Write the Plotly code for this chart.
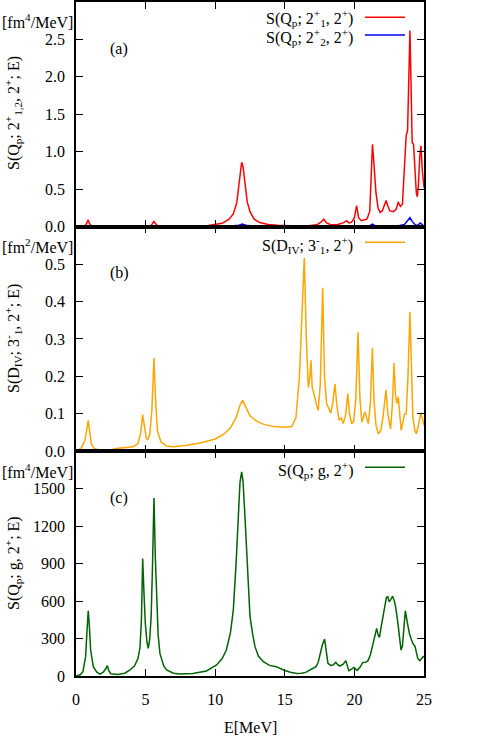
import plotly.graph_objects as go
from plotly.subplots import make_subplots

# ---------------- data ----------------
a1_E = [0.0, 0.5, 0.7, 0.82, 0.88, 0.95, 1.1, 1.5, 2.1, 2.2, 2.3, 3.0, 4.0, 5.0, 5.4, 5.52, 5.6, 5.68, 5.85,
        6.5, 7.5, 8.5, 9.5, 10.0, 10.5, 11.0, 11.3, 11.55, 11.75, 11.9, 12.0, 12.15, 12.3, 12.5, 12.8, 13.2,
        13.8, 14.5, 15.2, 16.0, 16.8, 17.3, 17.6, 17.8, 18.0, 18.3, 18.8, 19.2, 19.45, 19.6, 19.8, 20.0, 20.16,
        20.3, 20.5, 20.9, 21.1, 21.22, 21.3, 21.4, 21.55, 21.7, 21.85, 22.0, 22.15, 22.28, 22.4, 22.55, 22.8,
        23.0, 23.15, 23.3, 23.45, 23.6, 23.72, 23.82, 23.9, 23.99, 24.08, 24.15, 24.25, 24.35, 24.45, 24.52,
        24.6, 24.7, 24.78, 24.88, 25.0]
a1_S = [0.0, 0.005, 0.02, 0.06, 0.09, 0.05, 0.01, 0.002, 0.003, 0.012, 0.003, 0.002, 0.002, 0.004, 0.015, 0.05,
        0.075, 0.045, 0.015, 0.006, 0.005, 0.008, 0.015, 0.025, 0.045, 0.1, 0.17, 0.32, 0.6, 0.86, 0.8, 0.55,
        0.33, 0.2, 0.1, 0.055, 0.03, 0.018, 0.012, 0.01, 0.015, 0.025, 0.06, 0.1, 0.05, 0.025, 0.03, 0.05, 0.08,
        0.05, 0.06, 0.12, 0.28, 0.12, 0.08, 0.1, 0.2, 0.7, 1.1, 0.85, 0.45, 0.25, 0.19, 0.21, 0.28, 0.35, 0.28,
        0.21, 0.2, 0.23, 0.33, 0.27, 0.3, 0.75, 1.22, 1.28, 1.9, 2.62, 1.8, 1.12, 1.1, 0.75, 0.45, 0.4, 0.55,
        0.95, 1.08, 0.75, 0.52]

a2_E = [0.0, 5.5, 5.6, 5.7, 11.0, 11.7, 11.95, 12.2, 12.8, 15.0, 17.8, 20.0, 21.0, 21.3, 21.5, 22.0, 23.0,
        23.6, 23.85, 23.99, 24.15, 24.4, 24.55, 24.75, 24.9, 25.0]
a2_S = [0.0, 0.002, 0.005, 0.002, 0.005, 0.02, 0.035, 0.02, 0.005, 0.002, 0.005, 0.004, 0.005, 0.035, 0.01,
        0.004, 0.006, 0.03, 0.08, 0.12, 0.07, 0.02, 0.02, 0.05, 0.02, 0.015]

b_E = [0.0, 0.4, 0.65, 0.8, 0.88, 0.96, 1.1, 1.3, 1.7, 2.5, 3.0, 3.6, 4.1, 4.45, 4.65, 4.79, 4.9, 5.05, 5.15,
       5.3, 5.45, 5.6, 5.7, 5.85, 6.1, 6.5, 7.0, 8.0, 9.0, 10.0, 10.6, 11.1, 11.5, 11.8, 11.97, 12.2, 12.5, 13.0,
       13.5, 14.2, 15.0, 15.5, 15.8, 16.05, 16.25, 16.4, 16.55, 16.69, 16.8, 16.88, 16.97, 17.05, 17.15, 17.25,
       17.4, 17.55, 17.72, 17.85, 18.0, 18.15, 18.3, 18.45, 18.6, 18.75, 18.9, 19.05, 19.2, 19.38, 19.52, 19.65,
       19.8, 19.95, 20.1, 20.26, 20.4, 20.54, 20.65, 20.75, 20.88, 21.0, 21.15, 21.29, 21.42, 21.55, 21.72,
       21.9, 22.05, 22.15, 22.27, 22.4, 22.6, 22.72, 22.85, 22.95, 23.05, 23.15, 23.25, 23.36, 23.5, 23.6,
       23.72, 23.85, 23.99, 24.1, 24.2, 24.35, 24.45, 24.6, 24.76, 24.9, 25.0]
b_S = [0.0, 0.01, 0.03, 0.065, 0.083, 0.06, 0.02, 0.008, 0.003, 0.004, 0.008, 0.01, 0.012, 0.02, 0.05, 0.098,
       0.065, 0.035, 0.03, 0.045, 0.11, 0.249, 0.15, 0.055, 0.025, 0.014, 0.012, 0.016, 0.023, 0.033, 0.045,
       0.063, 0.09, 0.125, 0.136, 0.118, 0.095, 0.08, 0.072, 0.066, 0.064, 0.066, 0.09, 0.2, 0.4, 0.516, 0.3,
       0.171, 0.2, 0.243, 0.17, 0.154, 0.145, 0.128, 0.109, 0.18, 0.437, 0.2, 0.128, 0.115, 0.102, 0.13, 0.18,
       0.12, 0.083, 0.09, 0.074, 0.1, 0.154, 0.1, 0.074, 0.08, 0.14, 0.318, 0.14, 0.078, 0.09, 0.105, 0.09,
       0.074, 0.13, 0.276, 0.13, 0.07, 0.047, 0.055, 0.09, 0.12, 0.164, 0.1, 0.06, 0.12, 0.236, 0.15, 0.128,
       0.146, 0.09, 0.056, 0.08, 0.1, 0.1, 0.2, 0.373, 0.2, 0.09, 0.055, 0.047, 0.07, 0.102, 0.085, 0.07]

c_E = [0.0, 0.3, 0.5, 0.69, 0.8, 0.88, 0.96, 1.05, 1.24, 1.5, 1.72, 1.96, 2.15, 2.25, 2.35, 2.5, 3.0, 3.5,
       3.88, 4.2, 4.45, 4.6, 4.7, 4.79, 4.87, 4.98, 5.1, 5.19, 5.3, 5.4, 5.5, 5.6, 5.7, 5.8, 5.9, 6.03, 6.3,
       6.5, 7.0, 7.47, 8.4, 9.37, 10.1, 10.5, 10.8, 11.1, 11.3, 11.5, 11.64, 11.78, 11.9, 12.0, 12.15, 12.26,
       12.4, 12.5, 12.7, 12.86, 13.1, 13.46, 13.9, 14.4, 14.9, 15.4, 15.85, 16.2, 16.5, 16.8, 17.0, 17.24,
       17.4, 17.5, 17.7, 17.86, 18.0, 18.1, 18.3, 18.46, 18.66, 18.8, 18.95, 19.2, 19.38, 19.5, 19.6, 19.8,
       19.97, 20.1, 20.2, 20.4, 20.6, 20.8, 20.98, 21.15, 21.3, 21.45, 21.6, 21.7, 21.8, 21.9, 22.0, 22.15,
       22.3, 22.4, 22.5, 22.6, 22.75, 22.9, 23.0, 23.15, 23.35, 23.45, 23.55, 23.66, 23.8, 23.95, 24.1, 24.2,
       24.36, 24.45, 24.55, 24.7, 24.8, 24.95, 25.0]
c_S = [0, 10, 35, 155, 380, 523, 400, 210, 75, 30, 15, 30, 60, 83, 45, 18, 12, 22, 48, 80, 140, 230, 450, 941,
       700, 421, 270, 221, 300, 480, 900, 1427, 950, 528, 330, 181, 80, 48, 22, 16, 21, 40, 88, 140, 208, 350,
       528, 900, 1275, 1550, 1635, 1560, 1250, 1008, 700, 475, 330, 235, 160, 115, 85, 75, 48, 30, 21, 22, 29,
       48, 55, 75, 110, 155, 250, 296, 200, 101, 85, 88, 109, 90, 80, 95, 123, 80, 43, 55, 69, 55, 45, 70, 109,
       110, 123, 170, 235, 300, 381, 330, 310, 380, 448, 540, 630, 635, 595, 610, 640, 590, 528, 400, 208, 240,
       420, 523, 430, 341, 290, 261, 235, 190, 141, 123, 140, 155, 150]

x_ticks = [0, 5, 10, 15, 20, 25]
ya_ticks = [0.0, 0.5, 1.0, 1.5, 2.0, 2.5]
yb_ticks = [0.0, 0.1, 0.2, 0.3, 0.4, 0.5]
yc_ticks = [0, 300, 600, 900, 1200, 1500]

RED, BLUE, ORANGE, GREEN = "#ff0000", "#0000ff", "#ffa500", "#006400"
FONT = "Liberation Serif, Times New Roman, serif"

fig = make_subplots(rows=3, cols=1, shared_xaxes=True, vertical_spacing=0)
fig.add_trace(go.Scatter(x=a1_E, y=a1_S, mode="lines", line=dict(color=RED, width=1.5)), row=1, col=1)
fig.add_trace(go.Scatter(x=a2_E, y=a2_S, mode="lines", line=dict(color=BLUE, width=1.5)), row=1, col=1)
fig.add_trace(go.Scatter(x=b_E, y=b_S, mode="lines", line=dict(color=ORANGE, width=1.5)), row=2, col=1)
fig.add_trace(go.Scatter(x=c_E, y=c_S, mode="lines", line=dict(color=GREEN, width=1.5)), row=3, col=1)

axis_common = dict(showline=True, linecolor="black", linewidth=1.5, mirror="ticks", ticks="inside",
                   ticklen=7, tickwidth=1.2, tickcolor="black", showgrid=False, zeroline=False,
                   automargin=False, tickfont=dict(family=FONT, size=16, color="black"))
for r in (1, 2, 3):
    fig.update_xaxes(range=[0, 25], tickvals=x_ticks, ticktext=[str(v) for v in x_ticks],
                     ticklabelstandoff=8, row=r, col=1, **axis_common)
fig.update_yaxes(range=[0, 3.0], tickvals=ya_ticks, ticktext=["%.1f" % v for v in ya_ticks],
                 ticklabelstandoff=6, row=1, col=1, **axis_common)
fig.update_yaxes(range=[0, 0.6], tickvals=yb_ticks, ticktext=["%.1f" % v for v in yb_ticks],
                 ticklabelstandoff=6, row=2, col=1, **axis_common)
fig.update_yaxes(range=[0, 1800], tickvals=yc_ticks, ticktext=[str(v) for v in yc_ticks],
                 ticklabelstandoff=6, row=3, col=1, **axis_common)

# pixel -> paper helpers (plot area: x 76..424, y 2..676)
def px(xp):
    return (xp - 76) / 348.0

def py(yp):
    return (676 - yp) / 674.0

f16 = dict(family=FONT, size=16, color="black")
ann = []
# y-axis titles
for text, yc in [("S(Q<sub>p</sub>; 2<sup>+</sup><sub>1,2</sub>, 2<sup>+</sup>; E)", 113),
                 ("S(D<sub>IV</sub>; 3<sup>-</sup><sub>1</sub>, 2<sup>+</sup>; E)", 339),
                 ("S(Q<sub>p</sub>; g, 2<sup>+</sup>; E)", 563)]:
    ann.append(dict(text=text, x=px(13), y=py(yc), xref="paper", yref="paper", textangle=-90,
                    showarrow=False, xanchor="center", yanchor="middle", font=f16))
# unit labels
for text, yc in [("[fm<sup>4</sup>/MeV]", 21), ("[fm<sup>2</sup>/MeV]", 246), ("[fm<sup>4</sup>/MeV]", 471)]:
    ann.append(dict(text=text, x=px(75), y=py(yc), xref="paper", yref="paper", showarrow=False,
                    xanchor="right", yanchor="middle", font=f16))
# panel labels
for text, yc in [("(a)", 49), ("(b)", 273), ("(c)", 498)]:
    ann.append(dict(text=text, x=px(119), y=py(yc), xref="paper", yref="paper", showarrow=False,
                    xanchor="center", yanchor="middle", font=f16))
# legend texts
legend_items = [("S(Q<sub>p</sub>; 2<sup>+</sup><sub>1</sub>, 2<sup>+</sup>)", RED, 18, 17.3),
                ("S(Q<sub>p</sub>; 2<sup>+</sup><sub>2</sub>, 2<sup>+</sup>)", BLUE, 37, 35),
                ("S(D<sub>IV</sub>; 3<sup>-</sup><sub>1</sub>, 2<sup>+</sup>)", ORANGE, 245, 242.3),
                ("S(Q<sub>p</sub>; g, 2<sup>+</sup>)", GREEN, 470, 467.3)]
shapes = []
for text, col, yt, yl in legend_items:
    ann.append(dict(text=text, x=px(355), y=py(yt), xref="paper", yref="paper", showarrow=False,
                    xanchor="right", yanchor="middle", font=f16))
    shapes.append(dict(type="line", xref="paper", yref="paper", x0=px(365), x1=px(405), y0=py(yl),
                       y1=py(yl), line=dict(color=col, width=1.5)))
# x-axis title
ann.append(dict(text="E[MeV]", x=0.5, y=py(727), xref="paper", yref="paper", showarrow=False,
                xanchor="center", yanchor="middle", font=f16))

fig.update_layout(template="none", width=498, height=750, margin=dict(l=76, r=74, t=2, b=74),
                  paper_bgcolor="white", plot_bgcolor="white", showlegend=False,
                  annotations=ann, shapes=shapes, font=f16)

fig.write_html("out.html", config={"displayModeBar": False},
               post_script="document.body.style.margin='0px';")
